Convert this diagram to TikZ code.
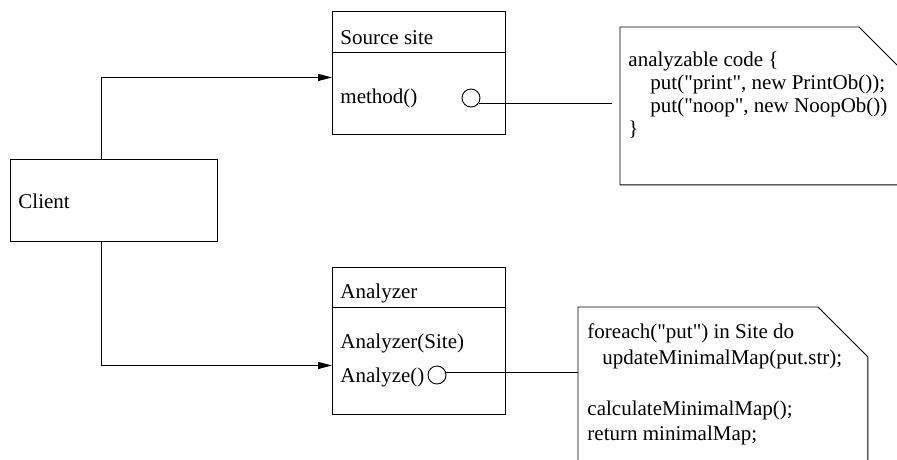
\documentclass[tikz,border=0pt]{standalone}
\usepackage{fontspec}
\setmainfont{Liberation Serif}[Ligatures=TeXOff]
\usetikzlibrary{arrows.meta}

\tikzstyle{every node}=[inner sep=0pt, font={\fontsize{21}{23}\selectfont}]
\tikzstyle{box}=[draw=black, anchor=north west]
\tikzstyle{entry}=[anchor=base west]
\tikzstyle{port}=[draw=black, circle, minimum size=18pt]
\tikzstyle{notearea}=[anchor=north west]
\tikzstyle{notetext}=[anchor=north west, align=left]
\tikzstyle{flow}=[-{Triangle[length=14pt,width=7pt]}]

\begin{document}
\begin{tikzpicture}[x=1pt, y=-1pt, line width=0.9pt]
    \useasboundingbox (0,0) rectangle (897,459);
    \clip (0,0) rectangle (897,459);

    \node [box, minimum width=207pt, minimum height=82pt] (client) at (10,159) {};
    \node [entry] (clientname) at (18,208) {Client};

    \node [box, minimum width=173pt, minimum height=123pt] (site) at (332,11) {};
    \draw ([yshift=-41pt]site.north west) -- ([yshift=-41pt]site.north east);
    \node [entry] (sitename) at (340,44) {Source site};
    \node [entry] (sitemethod) at (340,103) {method()};
    \node [port] (siteport) at (471,98) {};

    \node [box, minimum width=173pt, minimum height=147pt] (analyzer) at (332,267) {};
    \draw ([yshift=-40pt]analyzer.north west) -- ([yshift=-40pt]analyzer.north east);
    \node [entry] (ananame) at (340,298) {Analyzer};
    \node [entry] (anactor) at (340,348) {Analyzer(Site)};
    \node [entry] (anamethod) at (340,382) {Analyze()};
    \node [port] (anaport) at (437,375) {};

    \node [notearea, minimum width=285pt, minimum height=157pt] (codenote) at (620,27) {};
    \draw (codenote.south west) -- (codenote.north west) -- ([xshift=-47pt]codenote.north east)
        -- ([yshift=-47pt]codenote.north east) -- (codenote.south east) -- cycle;
    \node [notetext] (codetext) at (628,51.4) {analyzable code \{\\
        \hspace*{22pt}put("print", new PrintOb());\\
        \hspace*{22pt}put("noop", new NoopOb())\\
        \}};

    \node [notearea, minimum width=289pt, minimum height=173pt] (mapnote) at (578,307) {};
    \draw (mapnote.south west) -- (mapnote.north west) -- ([xshift=-50pt]mapnote.north east)
        -- ([yshift=-50pt]mapnote.north east) -- (mapnote.south east) -- cycle;
    \node [notetext, font={\fontsize{21}{25.5}\selectfont}] (maptext) at (587,323.4) {foreach("put") in Site do\\
        \hspace*{15pt}updateMinimalMap(put.str);\\[25.5pt]
        calculateMinimalMap();\\
        return minimalMap;};

    \draw [flow] ([xshift=-12.5pt]client.north) |- ([yshift=-4.5pt]site.west);
    \draw [flow] ([xshift=-12.5pt]client.south) |- ([yshift=-24.5pt]analyzer.west);

    \coordinate (codeend) at (612,102);
    \draw (siteport.-33) -- (siteport.-33 -| codeend);
    \draw (anaport.13) -- (anaport.13 -| mapnote.west);
\end{tikzpicture}
\end{document}
